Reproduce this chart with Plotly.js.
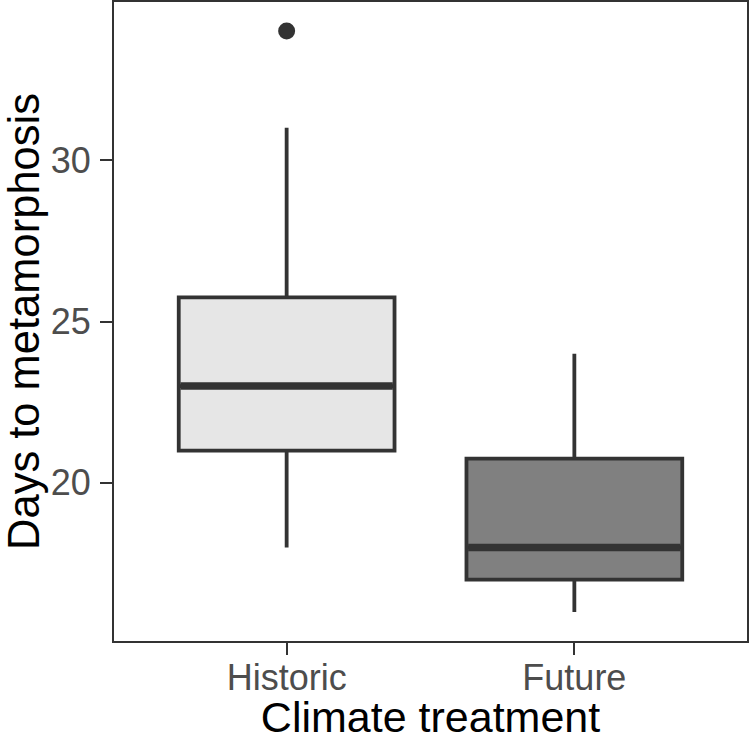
<!DOCTYPE html>
<html>
<head>
<meta charset="utf-8">
<script src="https://cdn.plot.ly/plotly-3.0.1.min.js"></script>
<style>html,body{margin:0;padding:0;background:#fff;}#chart{width:750px;height:741px;}</style>
</head>
<body>
<div id="chart"></div>
<script>
// Data
const categories = ["Historic", "Future"];
const lowerWhisker = [18, 16];
const q1Values = [21, 17];
const medianValues = [23, 18];
const q3Values = [25.75, 20.75];
const upperWhisker = [31, 24];
const outlierCategory = [0];
const outlierValues = [34];
const fillColors = ["#e6e6e6", "#808080"];
const yTicks = [20, 25, 30];

const boxWidth = 0.75;
const edge = "#333333";
const font = "Liberation Sans, Arial, sans-serif";

const traces = [];
categories.forEach((c, i) => {
  traces.push({
    type: "box",
    x: [i],
    q1: [q1Values[i]],
    median: [medianValues[i]],
    q3: [q3Values[i]],
    lowerfence: [lowerWhisker[i]],
    upperfence: [upperWhisker[i]],
    width: boxWidth,
    whiskerwidth: 0,
    fillcolor: fillColors[i],
    line: {color: edge, width: 3.8},
    boxpoints: false,
    showlegend: false,
    hoverinfo: "y"
  });
  traces.push({
    type: "scatter",
    mode: "lines",
    x: [i - boxWidth / 2 + 0.006, i + boxWidth / 2 - 0.006],
    y: [medianValues[i], medianValues[i]],
    line: {color: edge, width: 7.5},
    showlegend: false,
    hoverinfo: "skip"
  });
});
traces.push({
  type: "scatter",
  mode: "markers",
  x: outlierCategory,
  y: outlierValues,
  marker: {color: edge, size: 17},
  showlegend: false
});

const layout = {
  width: 750,
  height: 741,
  margin: {l: 114, r: 3, t: 2, b: 100},
  paper_bgcolor: "#ffffff",
  plot_bgcolor: "#ffffff",
  font: {family: font},
  xaxis: {
    range: [-0.6, 1.6],
    tickvals: categories.map((c, i) => i),
    ticktext: categories,
    showgrid: false,
    zeroline: false,
    showline: true,
    mirror: true,
    linecolor: edge,
    linewidth: 2,
    ticks: "outside",
    ticklen: 12,
    tickwidth: 2,
    tickcolor: edge,
    ticklabelstandoff: -8,
    tickfont: {size: 36, color: "#4d4d4d", family: font},
    title: {text: "Climate treatment", font: {size: 43, color: "#000000", family: font}, standoff: 10}
  },
  yaxis: {
    range: [15.1, 34.9],
    tickvals: yTicks,
    showgrid: false,
    zeroline: false,
    showline: true,
    mirror: true,
    linecolor: edge,
    linewidth: 2,
    ticks: "outside",
    ticklen: 12,
    tickwidth: 2,
    tickcolor: edge,
    ticklabelstandoff: 2,
    tickfont: {size: 36, color: "#4d4d4d", family: font},
    title: {text: "Days to metamorphosis", font: {size: 43.5, color: "#000000", family: font}, standoff: 4}
  }
};

Plotly.newPlot("chart", traces, layout, {staticPlot: true});
</script>
</body>
</html>
